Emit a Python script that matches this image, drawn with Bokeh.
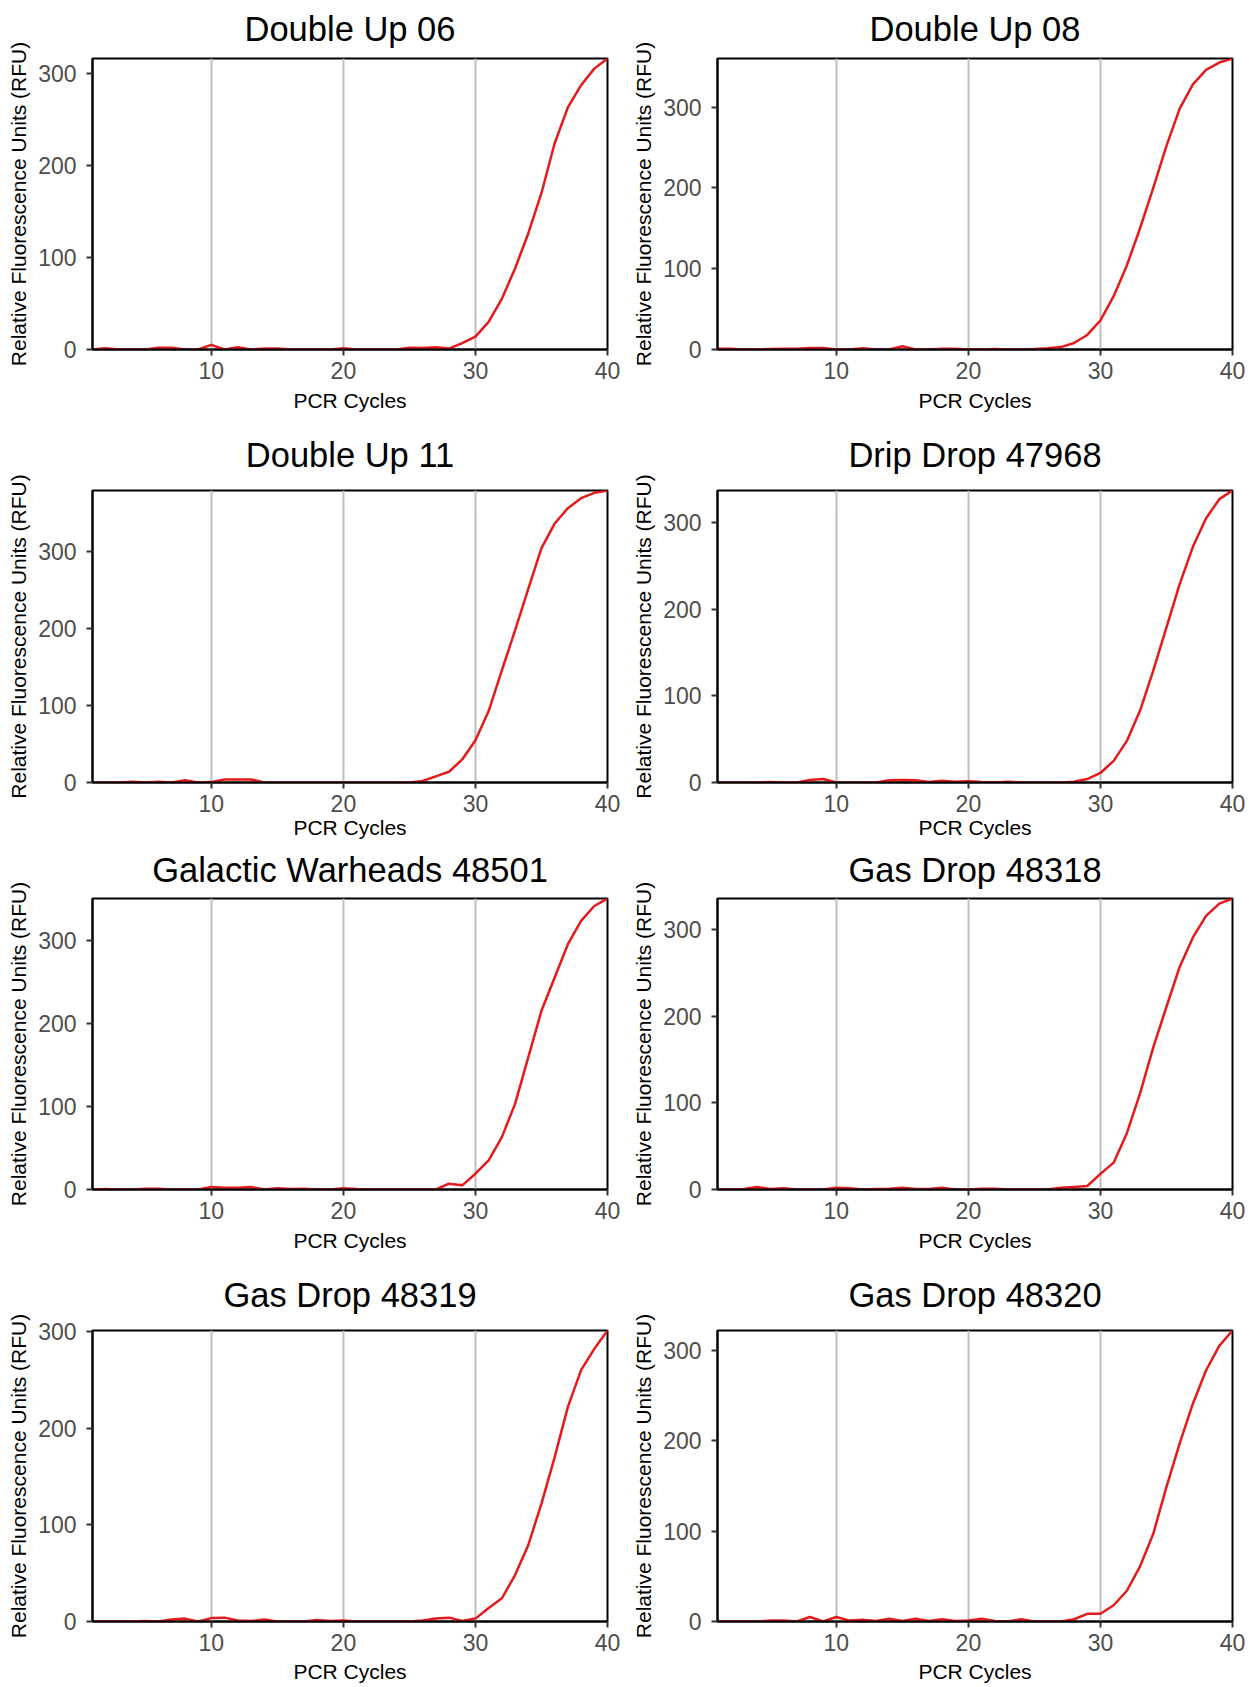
from bokeh.plotting import figure
from bokeh.layouts import column, row
from bokeh.models import Range1d, FixedTicker
from bokeh.embed import file_html
from bokeh.resources import INLINE

# ---------------- data ----------------
cycles = list(range(1, 41))
x_ticks = [10, 20, 30, 40]
y_ticks = [0, 100, 200, 300]
x_label = "PCR Cycles"
y_label = "Relative Fluorescence Units (RFU)"

titles = [
    "Double Up 06", "Double Up 08",
    "Double Up 11", "Drip Drop 47968",
    "Galactic Warheads 48501", "Gas Drop 48318",
    "Gas Drop 48319", "Gas Drop 48320",
]

double_up_06 = [0, 1.5, 0, 0, 0, 2, 2, 0, 0, 5,
                0, 2.5, 0, 1, 1, 0, 0, 0, 0, 1.5,
                0, 0, 0, 0, 2, 1.5, 2.5, 1, 7, 14,
                30, 55, 88, 126, 170, 224, 263, 287, 305, 316]

double_up_08 = [1, 1, 0, 0, 0.5, 1, 1, 2, 2, 0,
                0, 1.5, 0, 0, 4, 0, 0, 1, 1, 0,
                0, 0.5, 0, 0, 0.5, 1.5, 3, 8, 18, 36,
                66, 104, 150, 200, 252, 298, 328, 346, 355, 360]

double_up_11 = [0, 0, 0, 1, 0, 1, 0, 3, 0, 0.5,
                4, 4, 4, 0, 0, 0, 0, 0, 0, 0,
                0, 0, 0, 0, 0, 2, 8, 14, 30, 55,
                93, 146, 198, 252, 305, 337, 357, 370, 377, 380]

drip_drop_47968 = [0, 0, 0, 0, 0.5, 0, 0, 3, 4, 0,
                   0, 0, 0, 2.5, 3, 2.5, 0.5, 2, 1, 1.5,
                   0.5, 0, 1, 0, 0, 0, 0, 1, 4, 11,
                   25, 48, 83, 129, 179, 229, 272, 305, 327, 337]

galactic_warheads_48501 = [0, 0.5, 0, 0, 1, 1, 0, 0, 0, 3,
                           2, 2, 3, 0, 1.5, 0.5, 1, 0, 0, 1.5,
                           0.5, 0, 0, 0, 0, 0, 0, 7, 5, 19,
                           35, 63, 103, 159, 215, 255, 295, 323, 341, 350]

gas_drop_48318 = [0, 0, 0.5, 3, 0.5, 1.5, 0, 0, 0, 2,
                  1.5, 0, 0.5, 1, 2, 0.5, 0.5, 2, 0, 0,
                  1, 1, 0, 0, 0, 0, 2, 3, 4, 18,
                  31, 65, 111, 164, 211, 257, 291, 316, 330, 336]

gas_drop_48319 = [0, 0, 0, 0, 0.5, 0, 2, 3, 0, 3.5,
                  4, 1, 0.5, 2, 0, 0, 0, 1.5, 0.5, 1,
                  0, 0, 0, 0, 0, 1, 3, 4, 0.5, 3,
                  14, 24, 48, 79, 122, 170, 222, 260, 282, 301]

gas_drop_48320 = [0, 0, 0, 0, 1, 1, 0, 5, 0, 5,
                  1, 2, 0.5, 3, 0.5, 3, 0.5, 2.5, 0.5, 1,
                  3, 0.5, 0, 2.5, 0, 0, 0, 2.5, 8.5, 8.5,
                  18, 34, 61, 97, 149, 197, 241, 278, 305, 322]

series = [double_up_06, double_up_08, double_up_11, drip_drop_47968,
          galactic_warheads_48501, gas_drop_48318, gas_drop_48319, gas_drop_48320]

# ---------------- style / layout ----------------
FONT = "Liberation Sans"
FRAME_W = 515
# per row: (top border, frame height, bottom border, title standoff, x-label standoff)
row_geom = [
    (58, 291, 66, 17, 7),
    (75, 292, 60, 30, 1),
    (56, 291, 66, 15, 7),
    (75, 291, 65, 30, 6),
]
col_geom = [(92, 19), (91, 14)]  # (left border, right border)


def make_panel(title, vals, rg, cg):
    top, fh, bot, t_std, xl_std = rg
    left, right = cg
    p = figure(
        width=left + FRAME_W + right, height=top + fh + bot,
        output_backend="svg", toolbar_location=None,
        x_range=Range1d(cycles[0], cycles[-1]), y_range=Range1d(0, max(vals)),
        min_border_left=left, min_border_right=right,
        min_border_top=top, min_border_bottom=bot,
    )
    p.title.text = title
    p.title.align = "center"
    p.title.vertical_align = "top"
    p.title.text_font = FONT
    p.title.text_font_size = "34.5px"
    p.title.text_font_style = "normal"
    p.title.text_color = "black"
    p.title.standoff = t_std

    p.xaxis.ticker = FixedTicker(ticks=x_ticks)
    p.yaxis.ticker = FixedTicker(ticks=y_ticks)
    p.xaxis.axis_label = x_label
    p.yaxis.axis_label = y_label
    for ax in (p.xaxis, p.yaxis):
        ax.axis_label_text_font = FONT
        ax.axis_label_text_font_size = "21px"
        ax.axis_label_text_font_style = "normal"
        ax.axis_label_text_color = "black"
        ax.major_label_text_font = FONT
        ax.major_label_text_font_size = "23px"
        ax.major_label_text_color = "#4D4D4D"
        ax.major_tick_out = 6
        ax.major_tick_in = 0
        ax.major_tick_line_color = "#333333"
        ax.major_tick_line_width = 2
        ax.minor_tick_line_color = None
        ax.axis_line_color = "black"
        ax.axis_line_width = 2
    p.xaxis.major_label_standoff = 6
    p.xaxis.axis_label_standoff = xl_std
    p.yaxis.major_label_standoff = 10
    p.yaxis.axis_label_standoff = 5

    p.xgrid.grid_line_color = "#BEBEBE"
    p.xgrid.grid_line_width = 2
    p.ygrid.grid_line_color = None
    p.outline_line_color = "black"
    p.outline_line_width = 2
    p.outline_line_alpha = 1
    p.background_fill_color = "white"
    p.border_fill_color = "white"

    p.line(cycles, vals, line_color="#E41A1C", line_width=2.5, line_join="round")
    return p


rows = []
for r in range(4):
    figs = []
    for c in range(2):
        i = r * 2 + c
        figs.append(make_panel(titles[i], series[i], row_geom[r], col_geom[c]))
    rows.append(row(*figs))

layout = column(*rows)

open("out.html", "w").write(file_html(layout, INLINE))
